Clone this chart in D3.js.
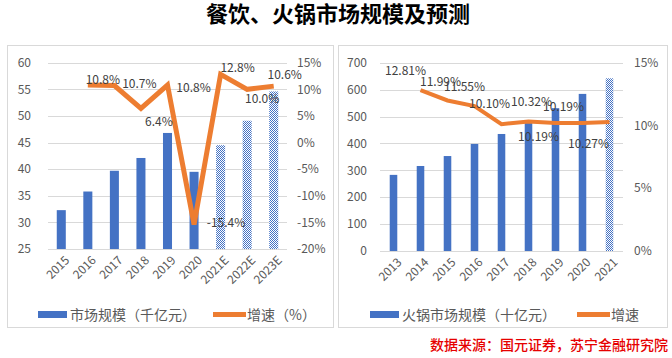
<!DOCTYPE html>
<html>
<head>
<meta charset="utf-8">
<script src="https://cdn.jsdelivr.net/npm/d3@7"></script>
<style>
  body { margin: 0; background: #fff; }
  svg text { font-family: "Noto Sans CJK SC", "Noto Sans", sans-serif; }
</style>
</head>
<body>
<script>
const WIDTH = 672;
const HEIGHT = 358;

// left chart: catering market
const cateringYears = ["2015", "2016", "2017", "2018", "2019", "2020", "2021E", "2022E", "2023E"];
const cateringSize = [32.3, 35.8, 39.7, 42.1, 46.8, 39.5, 44.5, 49.1, 54.6];
const cateringGrowth = [null, 10.8, 10.7, 6.4, 10.8, -15.4, 12.8, 10.0, 10.6];
const cateringLabels = ["", "10.8%", "10.7%", "6.4%", "10.8%", "-15.4%", "12.8%", "10.0%", "10.6%"];
const cateringForecast = [false, false, false, false, false, false, true, true, true];
const cateringLeftTicks = [25, 30, 35, 40, 45, 50, 55, 60];
const cateringRightTicks = [-20, -15, -10, -5, 0, 5, 10, 15];

// right chart: hotpot market
const hotpotYears = ["2013", "2014", "2015", "2016", "2017", "2018", "2019", "2020", "2021"];
const hotpotSize = [283, 316, 353, 398, 435, 478, 531, 584, 642];
const hotpotGrowth = [null, 12.81, 11.99, 11.55, 10.10, 10.32, 10.19, 10.19, 10.27];
const hotpotLabels = ["", "12.81%", "11.99%", "11.55%", "10.10%", "10.32%", "10.19%", "10.19%", "10.27%"];
const hotpotForecast = [false, false, false, false, false, false, false, false, true];
const hotpotLeftTicks = [0, 100, 200, 300, 400, 500, 600, 700];
const hotpotRightTicks = [0, 5, 10, 15];

// label nudges relative to the line point (styling, not data)
const cateringLabelShift = [[0,0],[15,-5],[25,-2],[18,13],[26,3],[32,-2],[17,-7],[15,9],[11,-11]];
const hotpotLabelShift = [[0,0],[-15,-19],[-7,-19],[-10,-19],[-12,-20],[3,-20],[-17,14],[-19,-16],[-21,22]];

const BLUE = "#4472C4";
const ORANGE = "#ED7D31";
const GRID = "#d9d9d9";
const AXIS_TEXT = "#595959";

var svg = d3.select("body").append("svg").attr("width", WIDTH).attr("height", HEIGHT);

// checker pattern for forecast bars
var pat = svg.append("defs").append("pattern")
  .attr("id", "hatch").attr("patternUnits", "userSpaceOnUse")
  .attr("width", 2).attr("height", 2);
pat.append("rect").attr("width", 2).attr("height", 2).attr("fill", "#fff");
pat.append("rect").attr("width", 1).attr("height", 1).attr("fill", BLUE);
pat.append("rect").attr("x", 1).attr("y", 1).attr("width", 1).attr("height", 1).attr("fill", BLUE);

svg.append("text")
  .attr("x", 338).attr("y", 14)
  .attr("dy", "0.35em")
  .attr("text-anchor", "middle")
  .attr("font-size", 22).attr("font-weight", 700)
  .attr("fill", "#000")
  .text("餐饮、火锅市场规模及预测");

function drawPanel(cfg) {
  var g = svg.append("g");

  g.append("rect")
    .attr("x", cfg.box[0] + 0.5).attr("y", cfg.box[1] + 0.5)
    .attr("width", cfg.box[2]).attr("height", cfg.box[3])
    .attr("fill", "none").attr("stroke", GRID);

  var x = d3.scaleBand().domain(cfg.years).range(cfg.xRange)
    .paddingInner(cfg.pad).paddingOuter(cfg.pad / 2);
  var yL = d3.scaleLinear().domain(cfg.leftDomain).range(cfg.yRange);
  var yR = d3.scaleLinear().domain(cfg.rightDomain).range(cfg.yRange);

  // gridlines
  g.append("g").selectAll("line").data(cfg.leftTicks).enter().append("line")
    .attr("x1", cfg.xRange[0]).attr("x2", cfg.xRange[1])
    .attr("y1", function(d) { return Math.round(yL(d)) + 0.5; })
    .attr("y2", function(d) { return Math.round(yL(d)) + 0.5; })
    .attr("stroke", GRID);

  // left axis labels
  g.append("g").selectAll("text").data(cfg.leftTicks).enter().append("text")
    .attr("x", cfg.leftLabelX).attr("y", function(d) { return yL(d); })
    .attr("dy", "0.35em").attr("text-anchor", "end")
    .attr("font-size", 12).attr("fill", AXIS_TEXT)
    .text(function(d) { return d; });

  // right axis labels
  g.append("g").selectAll("text").data(cfg.rightTicks).enter().append("text")
    .attr("x", cfg.rightLabelX).attr("y", function(d) { return yR(d); })
    .attr("dy", "0.35em").attr("text-anchor", "start")
    .attr("font-size", 12).attr("fill", AXIS_TEXT)
    .text(function(d) { return d + "%"; });

  // bars
  g.append("g").selectAll("rect").data(cfg.years).enter().append("rect")
    .attr("x", function(d) { return x(d); })
    .attr("width", x.bandwidth())
    .attr("y", function(d, i) { return yL(cfg.size[i]); })
    .attr("height", function(d, i) { return yL(cfg.leftDomain[0]) - yL(cfg.size[i]); })
    .attr("fill", function(d, i) { return cfg.forecast[i] ? "url(#hatch)" : BLUE; });

  // x labels
  g.append("g").selectAll("text").data(cfg.years).enter().append("text")
    .attr("transform", function(d) {
      return "translate(" + (x(d) + x.bandwidth() / 2 + 6) + "," + (cfg.yRange[0] + 9) + ") rotate(-45)";
    })
    .attr("text-anchor", "end").attr("dy", "0.35em")
    .attr("font-family", "DejaVu Sans Mono, monospace")
    .attr("font-size", 12).attr("fill", AXIS_TEXT)
    .text(function(d) { return d; });

  // growth line
  var pts = [];
  cfg.years.forEach(function(d, i) {
    if (cfg.growth[i] != null) pts.push({ year: d, v: cfg.growth[i], i: i });
  });
  var line = d3.line()
    .x(function(d) { return x(d.year) + x.bandwidth() / 2; })
    .y(function(d) { return yR(d.v); });
  g.append("path").datum(pts)
    .attr("d", line).attr("fill", "none")
    .attr("stroke", ORANGE).attr("stroke-width", cfg.lineWidth)
    .attr("stroke-linejoin", "miter");

  // data labels
  g.append("g").selectAll("text").data(pts).enter().append("text")
    .attr("x", function(d) { return x(d.year) + x.bandwidth() / 2 + cfg.shift[d.i][0]; })
    .attr("y", function(d) { return yR(d.v) + cfg.shift[d.i][1]; })
    .attr("dy", "0.35em").attr("text-anchor", "middle")
    .attr("font-family", "DejaVu Sans Mono, monospace")
    .attr("font-size", 12).attr("fill", "#404040")
    .text(function(d) { return cfg.labels[d.i]; });

  // legend
  var lg = g.append("g");
  lg.append("rect")
    .attr("x", cfg.legend[0]).attr("y", 311).attr("width", 29).attr("height", 7)
    .attr("fill", BLUE);
  lg.append("text")
    .attr("x", cfg.legend[0] + 32).attr("y", 315).attr("dy", "0.35em")
    .attr("font-size", 14).attr("fill", AXIS_TEXT)
    .text(cfg.sizeName);
  lg.append("line")
    .attr("x1", cfg.legend[1]).attr("x2", cfg.legend[1] + 33)
    .attr("y1", 314.5).attr("y2", 314.5)
    .attr("stroke", ORANGE).attr("stroke-width", 5);
  lg.append("text")
    .attr("x", cfg.legend[1] + 34).attr("y", 315).attr("dy", "0.35em")
    .attr("font-size", 14).attr("fill", AXIS_TEXT)
    .text(cfg.growthName);
}

drawPanel({
  box: [7, 45, 326, 282],
  years: cateringYears, size: cateringSize, growth: cateringGrowth,
  labels: cateringLabels, forecast: cateringForecast, shift: cateringLabelShift,
  leftTicks: cateringLeftTicks, rightTicks: cateringRightTicks,
  leftDomain: [25, 60], rightDomain: [-20, 15],
  xRange: [48, 287], yRange: [249, 62.7], pad: 0.66,
  leftLabelX: 31, rightLabelX: 297, lineWidth: 5,
  legend: [38, 213],
  sizeName: "市场规模（千亿元）", growthName: "增速（%）"
});

drawPanel({
  box: [338, 45, 329, 282],
  years: hotpotYears, size: hotpotSize, growth: hotpotGrowth,
  labels: hotpotLabels, forecast: hotpotForecast, shift: hotpotLabelShift,
  leftTicks: hotpotLeftTicks, rightTicks: hotpotRightTicks,
  leftDomain: [0, 700], rightDomain: [0, 15],
  xRange: [380, 623], yRange: [251, 62.7], pad: 0.72,
  leftLabelX: 367, rightLabelX: 634, lineWidth: 4,
  legend: [370, 577],
  sizeName: "火锅市场规模（十亿元）", growthName: "增速"
});

svg.append("text")
  .attr("x", 668).attr("y", 345).attr("dy", "0.35em")
  .attr("text-anchor", "end")
  .attr("font-size", 14).attr("font-weight", 500)
  .attr("fill", "#e60000")
  .text("数据来源：国元证券，苏宁金融研究院");
</script>
</body>
</html>
